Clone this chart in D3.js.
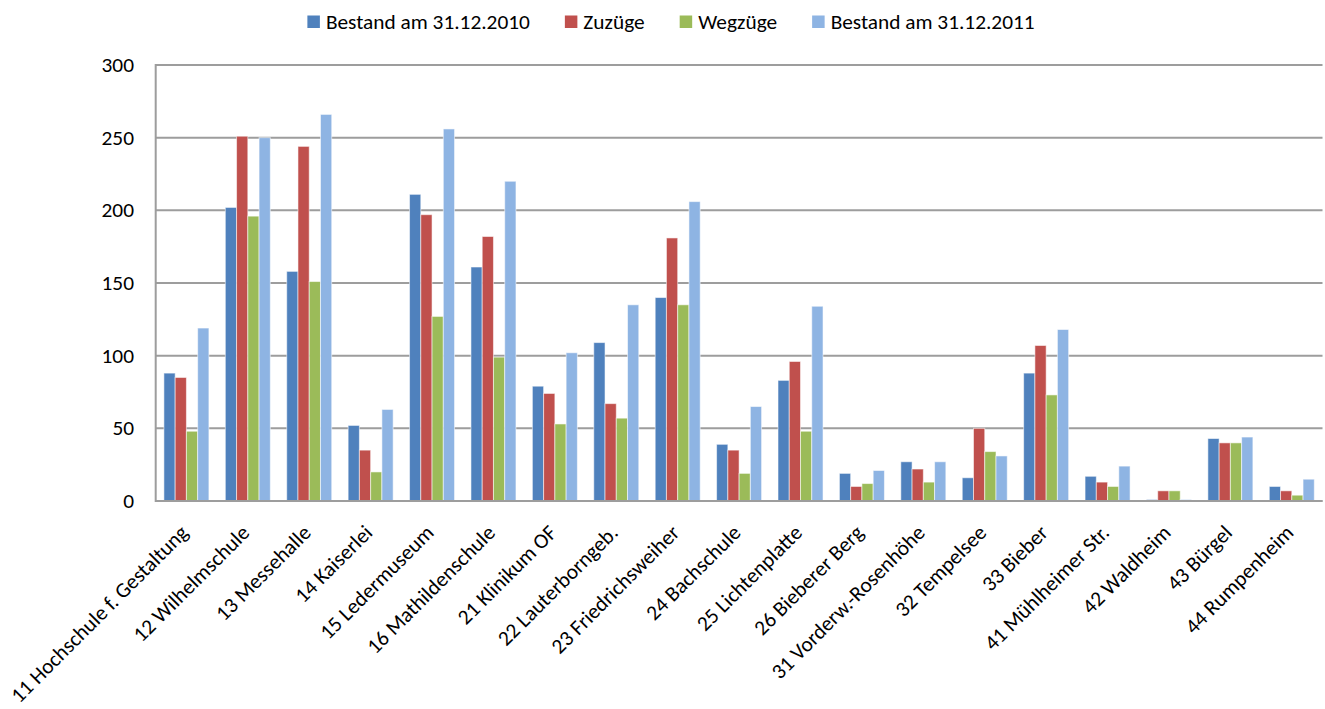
<!DOCTYPE html>
<html>
<head>
<meta charset="utf-8">
<script src="https://cdn.jsdelivr.net/npm/d3@7"></script>
<style>
  html, body { margin: 0; padding: 0; background: #fff; }
  svg { display: block; }
  text { font-family: Carlito, Lato, "Open Sans", sans-serif; fill: #000; }
</style>
</head>
<body>
<svg id="chart" width="1325" height="709"></svg>
<script>
const categories = ["11 Hochschule f. Gestaltung","12 Wilhelmschule","13 Messehalle","14 Kaiserlei","15 Ledermuseum","16 Mathildenschule","21 Klinikum OF","22 Lauterborngeb.","23 Friedrichsweiher","24 Bachschule","25 Lichtenplatte","26 Bieberer Berg","31 Vorderw.-Rosenhöhe","32 Tempelsee","33 Bieber","41 Mühlheimer Str.","42 Waldheim","43 Bürgel","44 Rumpenheim"];
const seriesNames = ["Bestand am 31.12.2010","Zuzüge","Wegzüge","Bestand am 31.12.2011"];
const bestand2010 = [88,202,158,52,211,161,79,109,140,39,83,19,27,16,88,17,1,43,10];
const zuzuege     = [85,251,244,35,197,182,74,67,181,35,96,10,22,50,107,13,7,40,7];
const wegzuege    = [48,196,151,20,127,99,53,57,135,19,48,12,13,34,73,10,7,40,4];
const bestand2011 = [119,250,266,63,256,220,102,135,206,65,134,21,27,31,118,24,1,44,15];
const yTicks = [0,50,100,150,200,250,300];
const colors = ["#4F81BD","#C0504D","#9BBB59","#8EB4E3"];

const seriesValues = [bestand2010, zuzuege, wegzuege, bestand2011];

const svg = d3.select("#chart");
const plotLeft = 155.7, plotRight = 1322.5, plotTop = 65, plotBottom = 501;
const fs = 21.33;

const x = d3.scaleBand().domain(categories).range([plotLeft, plotRight]).paddingInner(0.267).paddingOuter(0.1335);
const xs = d3.scaleBand().domain(d3.range(seriesNames.length)).range([0, x.bandwidth()]);
const y = d3.scaleLinear().domain([0, 300]).range([plotBottom, plotTop]);

// gridlines
const grid = svg.append("g");
grid.selectAll("line").data(yTicks).join("line")
  .attr("x1", plotLeft).attr("x2", plotRight)
  .attr("y1", d => y(d)).attr("y2", d => y(d))
  .attr("stroke", "#9d9d9d").attr("stroke-width", 2);

// left axis line
svg.append("line").attr("x1", plotLeft).attr("x2", plotLeft).attr("y1", plotTop - 1).attr("y2", plotBottom + 1)
  .attr("stroke", "#9d9d9d").attr("stroke-width", 2);

// y tick labels
svg.append("g").selectAll("text").data(yTicks).join("text")
  .attr("x", 134).attr("y", d => y(d)).attr("dy", "0.33em")
  .attr("text-anchor", "end").attr("font-size", fs)
  .text(d => d);

// bars
const groups = svg.append("g").selectAll("g").data(categories).join("g")
  .attr("transform", d => `translate(${x(d)},0)`);
groups.selectAll("rect").data((d, i) => seriesValues.map((s, k) => ({k, v: s[i]}))).join("rect")
  .attr("x", d => xs(d.k))
  .attr("width", xs.bandwidth())
  .attr("y", d => y(d.v))
  .attr("height", d => plotBottom - y(d.v))
  .attr("fill", d => colors[d.k])
  .attr("stroke", "rgba(255,255,255,0.55)").attr("stroke-width", 1);

// bottom axis line on top of bars
svg.append("line").attr("x1", plotLeft).attr("x2", plotRight).attr("y1", plotBottom).attr("y2", plotBottom)
  .attr("stroke", "#9d9d9d").attr("stroke-width", 2);

// x labels
svg.append("g").selectAll("text").data(categories).join("text")
  .attr("transform", d => `translate(${x(d) + x.bandwidth() / 2 + 3},534) rotate(-45)`)
  .attr("text-anchor", "end").attr("font-size", fs)
  .text(d => d);

// legend
const legend = svg.append("g");
const items = legend.selectAll("g").data(seriesNames).join("g");
items.append("rect").attr("width", 12.5).attr("height", 12.5).attr("y", 15.5)
  .attr("fill", (d, i) => colors[i]);
items.append("text").attr("x", 18.5).attr("y", 28.5)
  .attr("font-size", fs).text(d => d);
let widths = [];
items.each(function() { widths.push(d3.select(this).select("text").node().getComputedTextLength()); });
const gap = 35;
const total = d3.sum(widths.map(w => 18.5 + w)) + gap * (widths.length - 1);
let cx = 671 - total / 2;
items.attr("transform", (d, i) => {
  const t = `translate(${cx},0)`;
  cx += 18.5 + widths[i] + gap;
  return t;
});
</script>
</body>
</html>
